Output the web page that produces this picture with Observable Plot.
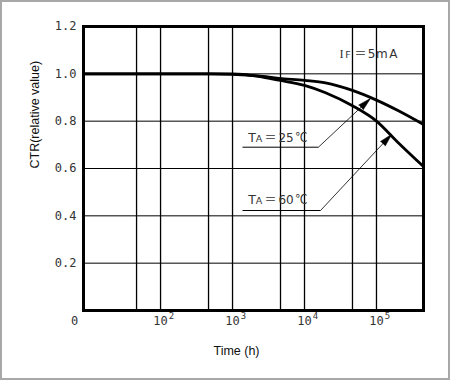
<!DOCTYPE html>
<html><head><meta charset="utf-8">
<script src="https://cdn.jsdelivr.net/npm/d3@7"></script>
<script src="https://cdn.jsdelivr.net/npm/@observablehq/plot@0.6"></script>
<style>
html,body{margin:0;padding:0;background:#fff;}
#wrap{position:relative;width:450px;height:380px;overflow:hidden;}
#wrap svg{display:block;}
#border{position:absolute;left:0;top:0;width:450px;height:380px;box-sizing:border-box;border:2px solid #a8a8a8;pointer-events:none;}
</style></head><body><div id="wrap"></div>
<script>
// ---- data ----
const times25 = [8.5, 100, 500, 1000, 2300, 4400, 10000, 19600, 46400, 100000, 195700, 450000];
const ctr25   = [1.0, 1.0, 1.0, 0.998, 0.991, 0.981, 0.972, 0.962, 0.930, 0.889, 0.846, 0.786];
const times60 = [8.5, 100, 500, 1000, 1400, 2300, 4400, 10000, 19600, 46400, 100000, 195700, 450000];
const ctr60   = [1.0, 1.0, 1.0, 1.0, 0.998, 0.989, 0.973, 0.951, 0.920, 0.865, 0.800, 0.712, 0.608];

const yTicks = [0.2, 0.4, 0.6, 0.8, 1.0, 1.2];
const yGrid = [0.2, 0.4, 0.6, 0.8, 1.0];
const xGrid = [46.4, 100, 464, 1000, 4640, 10000, 46400, 100000];
const xDecades = [100, 1000, 10000, 100000];
const xExponents = ["2", "3", "4", "5"];
const xBase = "10";
const originLabel = "0";
const xTitle = "Time (h)";
const yTitle = "CTR(relative value)";

// annotations (data coordinates)
const tempLabels = ["25", "60"];
const labelX = [1668, 1668];
const labelY = [0.714, 0.448];
const underlineFrom = [1376, 1376];
const underlineTo = [15600, 16700];
const underlineY = [0.690, 0.4225];
const arrowTipX = [82500, 163000];
const arrowTipY = [0.896, 0.745];
const condX = 30600, condY = 1.069;
const condParts = ["I", "F", "＝", "5", "m", "A"];
const tempParts = ["T", "A", "＝", "℃"];

const xDomain = [8.5, 450000];
const yDomain = [0, 1.2];

// ---- layout ----
const W = 450, H = 380, mL = 83, mR = 27, mT = 26, mB = 70;
const sx = Plot.scale({x: {type: "log", domain: xDomain, range: [mL, W - mR]}});
const sy = Plot.scale({y: {type: "linear", domain: yDomain, range: [H - mB, mT]}});

const curve25 = times25.map((t, i) => ({t, v: ctr25[i]}));
const curve60 = times60.map((t, i) => ({t, v: ctr60[i]}));
const annos = tempLabels.map((k, i) => {
  const dx = sx.apply(arrowTipX[i]) - sx.apply(underlineTo[i]);
  const dy = sy.apply(arrowTipY[i]) - sy.apply(underlineY[i]);
  return {
    k, lx: labelX[i], ly: labelY[i], u0: underlineFrom[i], u1: underlineTo[i], uy: underlineY[i],
    tx: arrowTipX[i], ty: arrowTipY[i], rot: Math.atan2(dx, -dy) * 180 / Math.PI
  };
});

const mono = "'DejaVu Sans Mono', monospace";
const sans = "'Liberation Sans', Arial, sans-serif";
const dv = "'DejaVu Sans', sans-serif";
const serif = "'Liberation Serif', serif";
const cjk = "'Noto Sans CJK JP', 'DejaVu Sans', sans-serif";
const txt = "#333";

// text pieces: [text accessor, dx (center), font, size]
const tempPieceStyle = [
  [() => tempParts[0], 3.5, dv, 12.5],
  [() => tempParts[1], 10.5, dv, 9.5],
  [() => tempParts[2], 22, cjk, 12],
  [d => d.k, 285.5 - 248, dv, 12],
  [() => tempParts[3], 53, cjk, 12]
];
const condPieceStyle = [
  [0, 2, serif, 12.5],
  [1, 8.5, dv, 9.5],
  [2, 21, cjk, 12],
  [3, 32, dv, 12],
  [4, 42.5, dv, 12],
  [5, 54, dv, 12]
];

const chart = Plot.plot({
  width: W, height: H,
  marginLeft: mL, marginRight: mR, marginTop: mT, marginBottom: mB,
  x: {type: "log", domain: xDomain, axis: null},
  y: {domain: yDomain, axis: null},
  style: {fontFamily: mono, fontSize: "12px", background: "white", overflow: "visible"},
  marks: [
    Plot.ruleX(xGrid, {stroke: "black", strokeWidth: 1.3}),
    Plot.ruleY(yGrid, {stroke: "black", strokeWidth: 1}),
    Plot.frame({stroke: "black", strokeWidth: 3}),
    // y tick labels
    Plot.text(yTicks, {x: xDomain[0], y: d => d, text: d => d.toFixed(1), textAnchor: "end", dx: -7, fill: txt, fontFamily: mono, fontSize: 12}),
    // x tick labels
    Plot.text(xDecades, {x: d => d, frameAnchor: "bottom", text: () => xBase, dy: 14, fill: txt, fontFamily: mono, fontSize: 12}),
    Plot.text(xDecades, {x: d => d, frameAnchor: "bottom", text: (d, i) => xExponents[i], dx: 11, dy: 8, fill: txt, fontFamily: mono, fontSize: 9}),
    Plot.text([originLabel], {x: xDomain[0], frameAnchor: "bottom", text: d => d, dx: -9, dy: 14, fill: txt, fontFamily: mono, fontSize: 12}),
    // titles
    Plot.text([xTitle], {frameAnchor: "bottom", text: d => d, dx: -17, dy: 44, fill: "#111", fontFamily: sans, fontSize: 12.5}),
    Plot.text([yTitle], {frameAnchor: "left", text: d => d, dx: -49, rotate: -90, fill: "#111", fontFamily: sans, fontSize: 12.5}),
    // curves
    Plot.line(curve25, {x: "t", y: "v", stroke: "black", strokeWidth: 2.8, curve: "monotone-x"}),
    Plot.line(curve60, {x: "t", y: "v", stroke: "black", strokeWidth: 2.8, curve: "monotone-x"}),
    // leaders
    Plot.link(annos, {x1: "u0", y1: "uy", x2: "u1", y2: "uy", stroke: "black", strokeWidth: 1}),
    Plot.link(annos, {x1: "u1", y1: "uy", x2: "tx", y2: "ty", stroke: "black", strokeWidth: 0.8}),
    Plot.vector(annos, {x: "tx", y: "ty", rotate: "rot", length: 13, r: 3.3, anchor: "end", shape: "spike", fill: "black", stroke: "black", strokeWidth: 0.5}),
    // temperature labels
    ...tempPieceStyle.map(([t, dx, f, s]) =>
      Plot.text(annos, {x: "lx", y: "ly", text: t, textAnchor: "middle", lineAnchor: "bottom", dx, fill: txt, fontFamily: f, fontSize: s})),
    // condition label
    ...condPieceStyle.map(([k, dx, f, s]) =>
      Plot.text([condX], {x: d => d, y: condY, text: () => condParts[k], textAnchor: "middle", lineAnchor: "bottom", dx, fill: txt, fontFamily: f, fontSize: s}))
  ]
});
const wrap = document.getElementById("wrap");
wrap.appendChild(chart);
const b = document.createElement("div"); b.id = "border"; wrap.appendChild(b);
</script>
</body></html>
